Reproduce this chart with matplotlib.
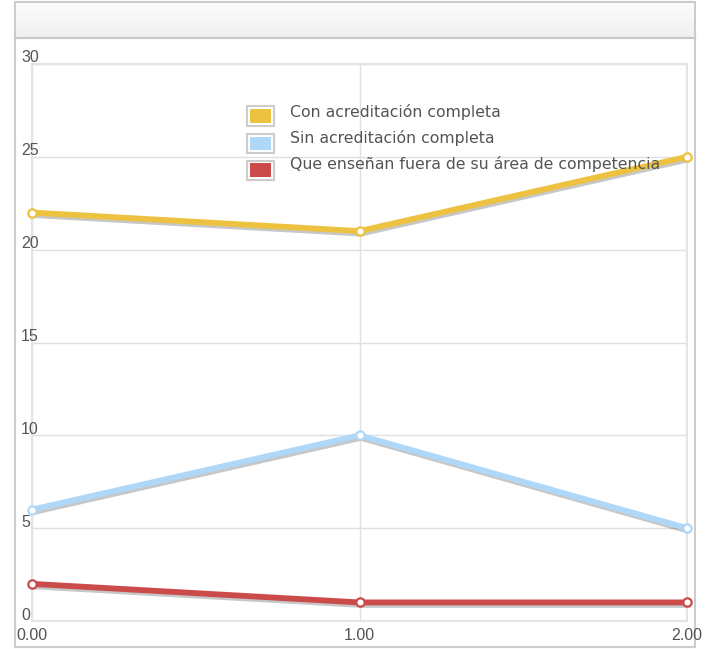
import matplotlib
matplotlib.use("Agg")
import matplotlib.pyplot as plt
import matplotlib.patheffects as pe
import matplotlib.transforms as mtrans
from matplotlib.patches import Rectangle
from matplotlib.lines import Line2D
from matplotlib.colors import LinearSegmentedColormap
from matplotlib import font_manager
import numpy as np

# ---- data ----
x_values = [0, 1, 2]
series_names = ["Con acreditación completa",
                "Sin acreditación completa",
                "Que enseñan fuera de su área de competencia"]
con_acreditacion = [22, 21, 25]
sin_acreditacion = [6, 10, 5]
fuera_area = [2, 1, 1]
series_values = [con_acreditacion, sin_acreditacion, fuera_area]
series_colors = ["#edc240", "#afd8f8", "#cb4b4b"]
y_ticks = [0, 5, 10, 15, 20, 25, 30]
y_tick_labels = ["0", "5", "10", "15", "20", "25", "30"]
x_ticks = [0, 1, 2]
x_tick_labels = ["0.00", "1.00", "2.00"]

names = {f.name for f in font_manager.fontManager.ttflist}
tick_family = "Liberation Sans Narrow" if "Liberation Sans Narrow" in names else "Liberation Sans"
tick_size = 13 if tick_family == "Liberation Sans Narrow" else 11.5

W, H = 708, 649
fig = plt.figure(figsize=(W / 100, H / 100), dpi=100)
fig.patch.set_facecolor("white")

def fx(px):
    return px / W

def fy(py):
    return 1 - py / H

# panel
panel = Rectangle((fx(15), fy(647)), fx(695) - fx(15), fy(2) - fy(647),
                  transform=fig.transFigure, facecolor="white",
                  edgecolor="#cccccc", linewidth=1.5, zorder=0)
fig.patches.append(panel)

# header gradient
hax = fig.add_axes([fx(16), fy(38), fx(694) - fx(16), fy(3) - fy(38)], zorder=1)
grad = np.linspace(0, 1, 64).reshape(-1, 1)
cmap = LinearSegmentedColormap.from_list("hdr", ["#fcfcfc", "#f0f0f0"])
hax.imshow(grad, aspect="auto", cmap=cmap, extent=[0, 1, 0, 1], origin="upper")
hax.set_axis_off()
fig.lines.append(Line2D([fx(15), fx(695)], [fy(38), fy(38)], transform=fig.transFigure,
                        color="#c8c8c8", linewidth=1.5, zorder=2))

# main axes
ax = fig.add_axes([fx(32), fy(621), fx(687) - fx(32), fy(64) - fy(621)], zorder=3)
ax.set_xlim(0, 2)
ax.set_ylim(0, 30)
ax.set_facecolor("white")
for sp in ax.spines.values():
    sp.set_color("#e4e4e4")
    sp.set_linewidth(1.5)

ax.set_yticks(y_ticks)
ax.set_yticklabels([])
ax.tick_params(axis="y", length=0)
ax.set_xticks(x_ticks)
ax.set_xticklabels(x_tick_labels, fontsize=tick_size, color="#545454", family=tick_family)
ax.tick_params(axis="x", length=0, pad=5)
ax.grid(True, color="#e0e0e0", linewidth=1.0)
ax.set_axisbelow(True)

# y labels above gridlines
ytrans = mtrans.blended_transform_factory(ax.transAxes, ax.transData)
for v, lab in zip(y_ticks, y_tick_labels):
    off = mtrans.offset_copy(ytrans, fig=fig, x=-11 * 72 / 100, y=1.5 * 72 / 100, units="points")
    ax.text(0, v, lab, transform=off, ha="left", va="baseline", fontsize=tick_size,
            color="#545454", family=tick_family, clip_on=False)

# series
for vals, col in zip(series_values, series_colors):
    ax.plot(x_values, vals, color=col, linewidth=4.2, solid_capstyle="round",
            path_effects=[pe.SimpleLineShadow(offset=(1.0, -1.8), shadow_color="black", alpha=0.22),
                          pe.Normal()], clip_on=False, zorder=4)
    ax.plot(x_values, vals, linestyle="none", marker="o", markersize=6,
            markerfacecolor="white", markeredgecolor=col, markeredgewidth=1.6,
            clip_on=False, zorder=5)

# legend
for i, (name, col) in enumerate(zip(series_names, series_colors)):
    cy = 116 + 27 * i
    outer = Rectangle((fx(247), fy(cy + 9.5)), fx(274) - fx(247), fy(cy - 9.5) - fy(cy + 9.5),
                      transform=fig.transFigure, facecolor="white", edgecolor="#cccccc",
                      linewidth=1.5, zorder=6)
    inner = Rectangle((fx(250), fy(cy + 6.5)), fx(271) - fx(250), fy(cy - 6.5) - fy(cy + 6.5),
                      transform=fig.transFigure, facecolor=col, edgecolor="none", zorder=7)
    fig.patches.append(outer)
    fig.patches.append(inner)
    fig.text(fx(290), fy(117 + 26 * i), name, ha="left", va="baseline", fontsize=11.3,
             color="#545454", family="DejaVu Sans", zorder=8)

fig.savefig("out.png", dpi=100, facecolor="white")
